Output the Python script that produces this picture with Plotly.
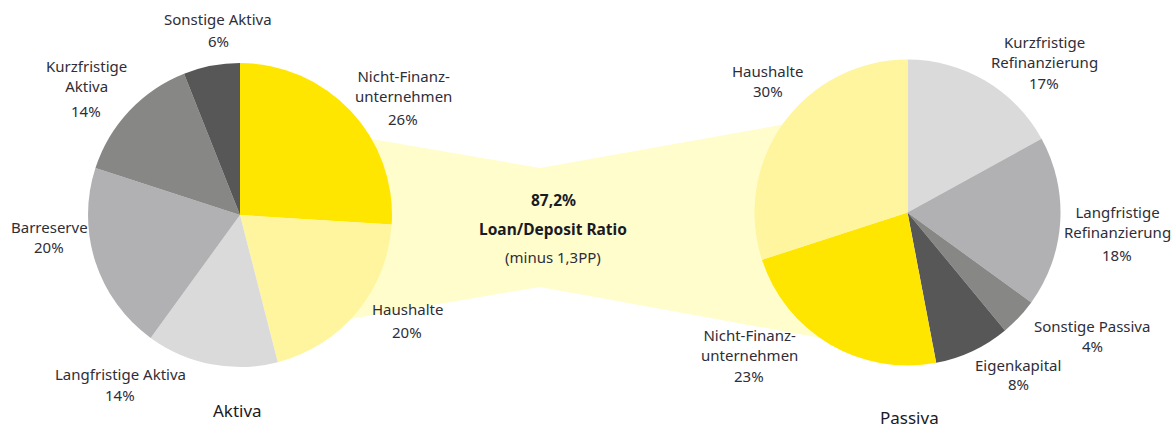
import math
import plotly.graph_objects as go

# ---------------- data ----------------
aktiva_labels = ["Nicht-Finanz-<br>unternehmen", "Haushalte", "Langfristige Aktiva",
                 "Barreserve", "Kurzfristige<br>Aktiva", "Sonstige Aktiva"]
aktiva_values = [26, 20, 14, 20, 14, 6]

passiva_labels = ["Kurzfristige<br>Refinanzierung", "Langfristige<br>Refinanzierung",
                  "Sonstige Passiva", "Eigenkapital", "Nicht-Finanz-<br>unternehmen", "Haushalte"]
passiva_values = [17, 18, 4, 8, 23, 30]

ratio_value = "87,2%"
ratio_title = "Loan/Deposit Ratio"
ratio_change = "(minus 1,3PP)"
titles = ["Aktiva", "Passiva"]

# ---------------- style ----------------
W, H = 1176, 428
YELLOW = "#FFE600"
LYELLOW = "#FFF59E"
CONNECT = "#FFFDCC"
G1, G2, G3, G4 = "#DADADA", "#B1B1B4", "#878785", "#575757"
aktiva_colors = [YELLOW, LYELLOW, G1, G2, G3, G4]
passiva_colors = [G1, G2, G3, G4, YELLOW, LYELLOW]
TXT = "#2E2E38"
FONT = "Noto Sans"
FS = 15

L_C, L_R = (240, 215), 152
R_C, R_R = (907.5, 212.5), 153

# label placement (pixel centres: x, name y, percent y)
aktiva_pos = [(403, 85.5, 118.7), (407, 309, 331.7), (120, 374, 395),
              (49, 226.7, 247.3), (86, 76, 110.7), (218, 19, 41)]
passiva_pos = [(1044, 52.2, 82.7), (1117, 222.3, 255), (1092, 326, 346),
               (1018, 365, 384), (749, 345, 376), (768, 70.7, 91)]


def px(x):
    return x / W


def py(y):
    return 1 - y / H


def dom(c, r):
    return dict(x=[px(c[0] - r), px(c[0] + r)], y=[py(c[1] + r), py(c[1] - r)])


fig = go.Figure()
for labels, values, colors, c, r in [
    (aktiva_labels, aktiva_values, aktiva_colors, L_C, L_R),
    (passiva_labels, passiva_values, passiva_colors, R_C, R_R),
]:
    fig.add_trace(go.Pie(
        labels=labels, values=values, sort=False, direction="clockwise", rotation=0,
        marker=dict(colors=colors, line=dict(width=0)),
        textinfo="none", hoverinfo="label+percent", showlegend=False,
        domain=dom(c, r),
    ))


def on_circle(c, r, ang):
    a = math.radians(ang)
    return (c[0] + r * math.sin(a), c[1] - r * math.cos(a))


# connector band (behind pies), built from pie geometry
pts = [L_C, on_circle(L_C, L_R, 60), (540, 168), on_circle(R_C, R_R, 305), R_C,
       on_circle(R_C, R_R, 215), (540, 287), on_circle(L_C, L_R, 133)]
path = "M " + " L ".join(f"{px(x):.5f},{py(y):.5f}" for x, y in pts) + " Z"
fig.add_shape(type="path", path=path, xref="paper", yref="paper", layer="below",
              fillcolor=CONNECT, line=dict(width=0))

anns = []
for labels, values, pos in [(aktiva_labels, aktiva_values, aktiva_pos),
                            (passiva_labels, passiva_values, passiva_pos)]:
    for lab, v, (x, yn, yp) in zip(labels, values, pos):
        anns.append(dict(text=lab, x=px(x), y=py(yn)))
        anns.append(dict(text=f"{v}%", x=px(x), y=py(yp)))

anns.append(dict(text=f"<b>{ratio_value}</b>", x=px(553), y=py(200),
                 font=dict(size=15.5, color="#1A1A24", family=FONT)))
anns.append(dict(text=f"<b>{ratio_title}</b>", x=px(553), y=py(229.3),
                 font=dict(size=15.5, color="#1A1A24", family=FONT)))
anns.append(dict(text=ratio_change, x=px(553), y=py(256.7)))
anns.append(dict(text=titles[0], x=px(237), y=py(410.7), font=dict(size=17, color="#1A1A24", family=FONT)))
anns.append(dict(text=titles[1], x=px(909), y=py(417.7), font=dict(size=17, color="#1A1A24", family=FONT)))

for a in anns:
    a.setdefault("font", dict(size=FS, color=TXT, family=FONT))
    a.update(xref="paper", yref="paper", showarrow=False, xanchor="center", yanchor="middle")
fig.update_layout(
    width=W, height=H, margin=dict(l=0, r=0, t=0, b=0),
    paper_bgcolor="white", plot_bgcolor="white",
    annotations=anns, font=dict(family=FONT, color=TXT),
)
fig.write_html("out.html", config={"displayModeBar": False},
               post_script="document.body.style.margin='0';")
